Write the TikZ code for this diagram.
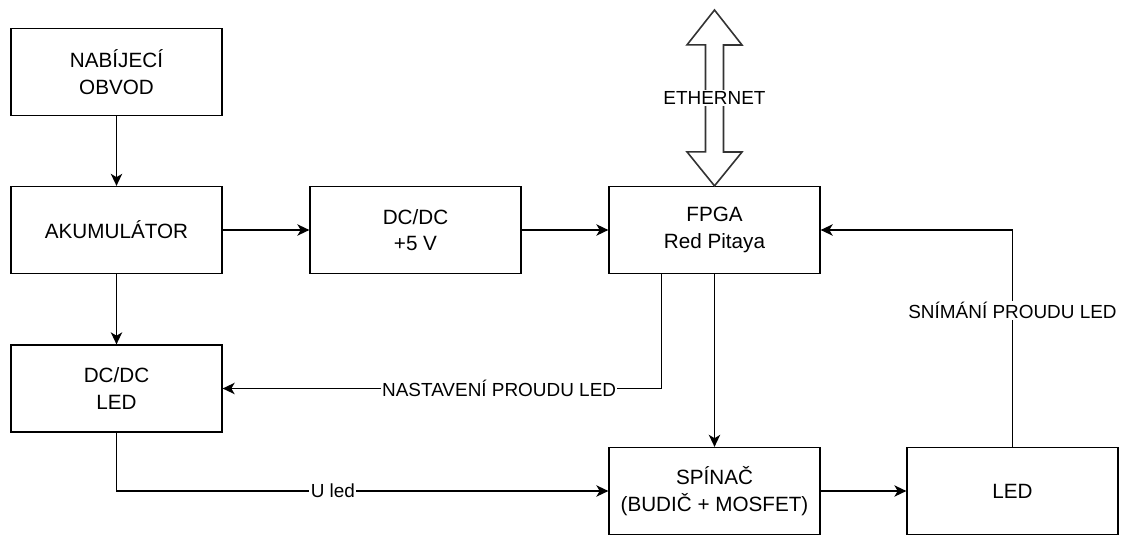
\documentclass[tikz,border=0pt]{standalone}
\usepackage{fontspec}
\setmainfont{Liberation Sans}
\usetikzlibrary{arrows.meta,positioning}
\tikzset{
  blok/.style={rectangle,draw=black,line width=1.2pt,minimum width=158pt,minimum height=65pt,
    align=center,inner sep=2pt,font=\fontsize{15.5}{20}\selectfont},
  spoj/.style={-{Stealth[length=9pt,width=8.5pt,inset=2.5pt]},line width=1.2pt},
  popis/.style={fill=white,inner sep=1pt,font=\fontsize{14.2}{16}\selectfont},
  ethsipka/.style={draw=black!80,line width=1.2pt,fill=white,line join=miter},
}
\begin{document}
\begin{tikzpicture}[x=0.75pt,y=-0.75pt]
\useasboundingbox (0,0) rectangle (1126,538);
% Bloky
\node[blok] (nabij) at (116.5,72) {NABÍJECÍ\\OBVOD};
\node[blok] (akum) at (116.5,230) {AKUMULÁTOR};
\node[blok] (dc5) at (415.5,230) {DC/DC\\+5 V};
\node[blok] (fpga) at (714.5,230) {FPGA\\Red Pitaya};
\node[blok] (dcled) at (116.5,388.5) {DC/DC\\LED};
\node[blok] (spinac) at (714.5,491) {SPÍNAČ\\(BUDIČ + MOSFET)};
\node[blok] (led) at (1012.5,491) {LED};

% --- Ethernet ---
\coordinate (eth) at (714.5,10);
\draw[ethsipka] (eth) -- ++(27.5,35) -- ++(-18.5,0) -- ++(0,107) -- ++(18.5,0) -- (fpga.north)
  -- ++(-27.5,-34) -- ++(18.5,0) -- ++(0,-107) -- ++(-18.5,0) -- cycle;
\node[popis] (ethtext) at (714.5,98) {ETHERNET};

% --- Napajeni ---
\draw[spoj] (nabij) -- (akum);
\draw[spoj] (akum) -- (dc5);
\draw[spoj] (dc5) -- (fpga);
\draw[spoj] (akum) -- (dcled);

% --- Rizeni ---
\coordinate (nast) at (661.5,274);
\draw[spoj] (nast) |- (dcled.east) node[popis,pos=0.685] {NASTAVENÍ PROUDU LED};
\draw[spoj] (fpga) -- (spinac);
\draw[spoj] (dcled.south) |- (spinac.west) node[popis,pos=0.72] {U led};
\draw[spoj] (spinac) -- (led);
\draw[spoj] (led.north) |- (fpga.east) node[popis,pos=0.314] {SNÍMÁNÍ PROUDU LED};
\end{tikzpicture}
\end{document}
